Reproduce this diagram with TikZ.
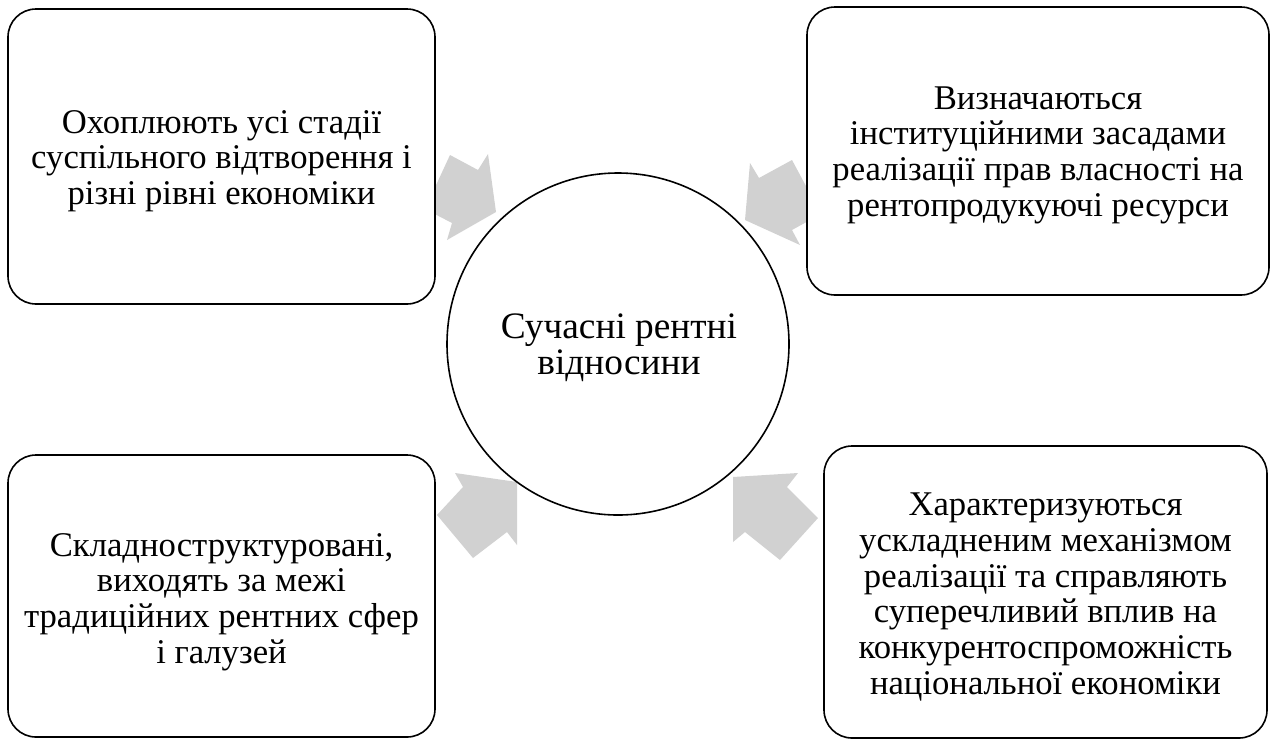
\documentclass[tikz,border=0pt]{standalone}
\usepackage{fontspec}
\setmainfont{Liberation Serif}
\begin{document}
\begin{tikzpicture}[x=0.75pt,y=-0.75pt,
  box/.style={draw=black, line width=1.2pt, fill=white, rounded corners=21pt, inner sep=0pt},
  txt/.style={align=center, inner sep=0pt, font=\fontsize{26}{26.8}\selectfont},
  hub/.style={draw=black, line width=1.2pt, fill=white, circle, inner sep=0pt,
    minimum size=256.5pt},
  hubtxt/.style={align=center, inner sep=0pt, font=\fontsize{28}{27}\selectfont},
  blockarrow/.style={fill=black!18, draw=none}
]
\useasboundingbox (0,0) rectangle (1274,740);
% block arrows (drawn behind boxes and circle)
\fill[blockarrow] (450,155) -- (478,170) -- (488,154) -- (496,212) -- (447,240) -- (452,223) -- (425,209) -- cycle;
\fill[blockarrow] (792,160) -- (759,178) -- (750,163) -- (745,220) -- (800,245) -- (792,230) -- (821,214) -- cycle;
\fill[blockarrow] (517,482) -- (455,473) -- (463,487) -- (437,515) -- (473,558) -- (507,532) -- (517,545) -- cycle;
\fill[blockarrow] (733,477) -- (798,473) -- (787,487) -- (818,518) -- (780,560) -- (745,532) -- (733,542) -- cycle;
% boxes
\node[box, minimum width=320.25pt, minimum height=221.25pt] (tl) at (221.5,156.5) {};
\node[txt] (tlt) at (221.5,161)
  {Охоплюють усі стадії\\суспільного відтворення і\\різні рівні економіки};
\node[box, minimum width=346.5pt, minimum height=216pt] (tr) at (1038,151) {};
\node[txt] (trt) at (1038,155)
  {Визначаються\\інституційними засадами\\реалізації прав власності на\\рентопродукуючі ресурси};
\node[box, minimum width=320.25pt, minimum height=211.5pt] (bl) at (221.5,596) {};
\node[txt] (blt) at (221.5,602)
  {Складноструктуровані,\\виходять за межі\\традиційних рентних сфер\\і галузей};
\node[box, minimum width=332.25pt, minimum height=219pt] (br) at (1045.5,592) {};
\node[txt] (brt) at (1045.5,597)
  {Характеризуються\\ускладненим механізмом\\реалізації та справляють\\суперечливий вплив на\\конкурентоспроможність\\національної економіки};
\node[hub] (c) at (618,344) {};
\node[hubtxt] (ct) at (619,348) {Сучасні рентні\\відносини};
\end{tikzpicture}
\end{document}
